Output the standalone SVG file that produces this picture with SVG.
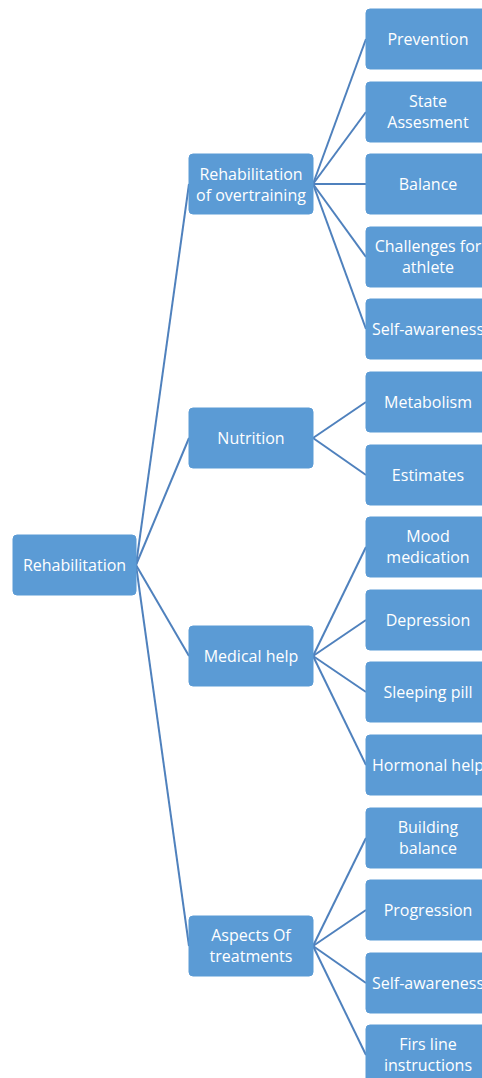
<svg xmlns="http://www.w3.org/2000/svg" width="482" height="1078" viewBox="0 0 482 1078">
  <style>
    .box { fill: #5B9BD5; stroke: #5B9BD5; stroke-width: 1; }
    .lbl { fill: #FFFFFF; font-family: "Open Sans", "Liberation Sans", sans-serif; font-size: 16px; text-anchor: middle; }
    .link { stroke: #4F81BD; stroke-width: 2; fill: none; }
  </style>
  <rect width="482" height="1078" fill="#FFFFFF"/>

  <!-- connectors -->
  <g id="connectors">
    <!-- root to level 1 -->
    <line class="link" x1="136" y1="565" x2="189" y2="184"/>
    <line class="link" x1="136" y1="565" x2="189" y2="438"/>
    <line class="link" x1="136" y1="565" x2="189" y2="656"/>
    <line class="link" x1="136" y1="565" x2="189" y2="946"/>
    <!-- Rehabilitation of overtraining -->
    <line class="link" x1="313" y1="184" x2="366" y2="39"/>
    <line class="link" x1="313" y1="184" x2="366" y2="112"/>
    <line class="link" x1="313" y1="184" x2="366" y2="184"/>
    <line class="link" x1="313" y1="184" x2="366" y2="257"/>
    <line class="link" x1="313" y1="184" x2="366" y2="329"/>
    <!-- Nutrition -->
    <line class="link" x1="313" y1="438" x2="366" y2="402"/>
    <line class="link" x1="313" y1="438" x2="366" y2="475"/>
    <!-- Medical help -->
    <line class="link" x1="313" y1="656" x2="366" y2="547"/>
    <line class="link" x1="313" y1="656" x2="366" y2="620"/>
    <line class="link" x1="313" y1="656" x2="366" y2="692"/>
    <line class="link" x1="313" y1="656" x2="366" y2="765"/>
    <!-- Aspects Of treatments -->
    <line class="link" x1="313" y1="946" x2="366" y2="838"/>
    <line class="link" x1="313" y1="946" x2="366" y2="910"/>
    <line class="link" x1="313" y1="946" x2="366" y2="983"/>
    <line class="link" x1="313" y1="946" x2="366" y2="1055"/>
  </g>

  <!-- root -->
  <g id="n-rehabilitation">
    <rect class="box" x="13" y="535" width="123" height="60" rx="4"/>
    <text class="lbl" x="74.5" y="571">Rehabilitation</text>
  </g>

  <!-- level 1 -->
  <g id="n-overtraining">
    <rect class="box" x="189" y="154" width="124" height="60" rx="4"/>
    <text class="lbl" x="251" y="180">Rehabilitation</text>
    <text class="lbl" x="251" y="201">of overtraining</text>
  </g>
  <g id="n-nutrition">
    <rect class="box" x="189" y="408" width="124" height="60" rx="4"/>
    <text class="lbl" x="251" y="444">Nutrition</text>
  </g>
  <g id="n-medical">
    <rect class="box" x="189" y="626" width="124" height="60" rx="4"/>
    <text class="lbl" x="251" y="662">Medical help</text>
  </g>
  <g id="n-aspects">
    <rect class="box" x="189" y="916" width="124" height="60" rx="4"/>
    <text class="lbl" x="251" y="941">Aspects Of</text>
    <text class="lbl" x="251" y="962">treatments</text>
  </g>

  <!-- level 2 -->
  <g id="n-prevention">
    <rect class="box" x="366" y="9" width="124" height="60" rx="4"/>
    <text class="lbl" x="428" y="45">Prevention</text>
  </g>
  <g id="n-state">
    <rect class="box" x="366" y="82" width="124" height="60" rx="4"/>
    <text class="lbl" x="428" y="107">State</text>
    <text class="lbl" x="428" y="128">Assesment</text>
  </g>
  <g id="n-balance">
    <rect class="box" x="366" y="154" width="124" height="60" rx="4"/>
    <text class="lbl" x="428" y="190">Balance</text>
  </g>
  <g id="n-challenges">
    <rect class="box" x="366" y="227" width="124" height="60" rx="4"/>
    <text class="lbl" x="428" y="252">Challenges for</text>
    <text class="lbl" x="428" y="273">athlete</text>
  </g>
  <g id="n-selfaware-1">
    <rect class="box" x="366" y="299" width="124" height="60" rx="4"/>
    <text class="lbl" x="428" y="335">Self-awareness</text>
  </g>
  <g id="n-metabolism">
    <rect class="box" x="366" y="372" width="124" height="60" rx="4"/>
    <text class="lbl" x="428" y="408">Metabolism</text>
  </g>
  <g id="n-estimates">
    <rect class="box" x="366" y="445" width="124" height="60" rx="4"/>
    <text class="lbl" x="428" y="481">Estimates</text>
  </g>
  <g id="n-mood">
    <rect class="box" x="366" y="517" width="124" height="60" rx="4"/>
    <text class="lbl" x="428" y="542">Mood</text>
    <text class="lbl" x="428" y="563">medication</text>
  </g>
  <g id="n-depression">
    <rect class="box" x="366" y="590" width="124" height="60" rx="4"/>
    <text class="lbl" x="428" y="626">Depression</text>
  </g>
  <g id="n-sleeping">
    <rect class="box" x="366" y="662" width="124" height="60" rx="4"/>
    <text class="lbl" x="428" y="698">Sleeping pill</text>
  </g>
  <g id="n-hormonal">
    <rect class="box" x="366" y="735" width="124" height="60" rx="4"/>
    <text class="lbl" x="428" y="771">Hormonal help</text>
  </g>
  <g id="n-building">
    <rect class="box" x="366" y="808" width="124" height="60" rx="4"/>
    <text class="lbl" x="428" y="833">Building</text>
    <text class="lbl" x="428" y="854">balance</text>
  </g>
  <g id="n-progression">
    <rect class="box" x="366" y="880" width="124" height="60" rx="4"/>
    <text class="lbl" x="428" y="916">Progression</text>
  </g>
  <g id="n-selfaware-2">
    <rect class="box" x="366" y="953" width="124" height="60" rx="4"/>
    <text class="lbl" x="428" y="989">Self-awareness</text>
  </g>
  <g id="n-firstline">
    <rect class="box" x="366" y="1025" width="124" height="60" rx="4"/>
    <text class="lbl" x="428" y="1050">Firs line</text>
    <text class="lbl" x="428" y="1071">instructions</text>
  </g>
</svg>
